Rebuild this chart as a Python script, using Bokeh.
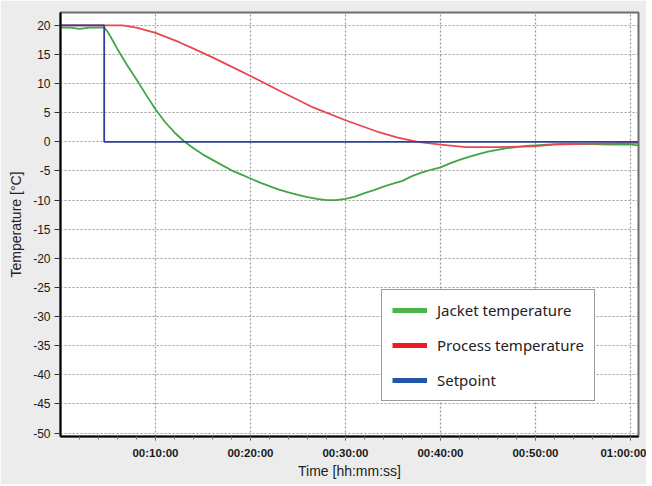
from bokeh.plotting import figure
from bokeh.models import (Range1d, FixedTicker, Legend, LegendItem)
from bokeh.embed import file_html
from bokeh.resources import INLINE

# ---- data (time in minutes, temperatures in degC) ----
jacket_t = [0, 1, 2, 3, 4, 4.6, 5.0, 5.5, 6, 7, 8, 9, 10, 11, 12, 13, 14, 15, 16, 17, 18, 19, 20,
            21, 22, 23, 24, 25, 26, 27, 28, 29, 30, 31, 32, 33, 34, 35, 36, 37, 38, 39, 40,
            41, 42, 43, 44, 45, 46, 47, 48, 49, 50, 52, 54, 56, 58, 60, 60.85]
jacket_v = [19.6, 19.6, 19.4, 19.6, 19.6, 19.6, 18.8, 17.4, 15.9, 13.2, 10.7, 8.1, 5.6, 3.4, 1.6, 0.1,
            -1.1, -2.2, -3.1, -4.0, -4.9, -5.6, -6.3, -7.0, -7.6, -8.2, -8.7, -9.1, -9.5, -9.8,
            -10.0, -10.0, -9.8, -9.4, -8.8, -8.3, -7.7, -7.2, -6.7, -5.9, -5.3, -4.8, -4.4,
            -3.7, -3.1, -2.6, -2.1, -1.7, -1.4, -1.1, -0.9, -0.7, -0.6, -0.4, -0.3, -0.4, -0.5,
            -0.5, -0.6]

process_t = [0, 6.5, 8, 10, 12.5, 14, 16, 18, 20, 23, 26.6, 30, 33.6, 35.5, 37.6, 40, 42.7,
             46, 49.7, 52, 56, 60.85]
process_v = [20.0, 20.0, 19.6, 18.7, 17.1, 16.0, 14.5, 12.9, 11.3, 8.8, 5.9, 3.7, 1.6, 0.7,
             0.0, -0.5, -0.9, -0.9, -0.8, -0.5, -0.3, -0.2]

setpoint_t = [0, 4.6, 4.6, 60.85]
setpoint_v = [20, 20, 0, 0]

x_ticks = [10, 20, 30, 40, 50, 60]
x_tick_labels = ["00:10:00", "00:20:00", "00:30:00", "00:40:00", "00:50:00", "01:00:00"]
y_ticks = [20, 15, 10, 5, 0, -5, -10, -15, -20, -25, -30, -35, -40, -45, -50]
y_tick_labels = ["20", "15", "10", "5", "0", "-5", "-10", "-15", "-20", "-25", "-30", "-35",
                 "-40", "-45", "-50"]
series_names = ["Jacket temperature", "Process temperature", "Setpoint"]

BG = "#ececec"

p = figure(width=646, height=484, output_backend="svg", toolbar_location=None,
           x_range=Range1d(0, 60.85), y_range=Range1d(-50.6, 22.2),
           min_border_left=60, min_border_right=8, min_border_top=12, min_border_bottom=48)
p.border_fill_color = BG
p.background_fill_color = "white"
p.outline_line_color = "#6e6e6e"
p.outline_line_width = 2

# axes
p.xaxis.ticker = FixedTicker(ticks=x_ticks, minor_ticks=list(range(2, 61, 2)))
p.xaxis.major_label_overrides = {t: l for t, l in zip(x_ticks, x_tick_labels)}
p.yaxis.ticker = FixedTicker(ticks=y_ticks)
p.yaxis.major_label_overrides = {t: l for t, l in zip(y_ticks, y_tick_labels)}
for ax in (p.xaxis[0], p.yaxis[0]):
    ax.axis_line_color = "black"
    ax.axis_line_width = 2
    ax.major_tick_line_color = "#333333"
    ax.minor_tick_line_color = "#777777"
    ax.major_label_text_font = "Liberation Sans"
    ax.major_label_text_color = "#1a1a1a"
    ax.axis_label_text_font = "Liberation Sans"
    ax.axis_label_text_font_style = "normal"
    ax.axis_label_text_font_size = "14px"
    ax.axis_label_text_color = "#222222"
p.xaxis.major_tick_out = 4
p.xaxis.major_tick_in = 0
p.xaxis.minor_tick_out = 3
p.xaxis.minor_tick_in = 0
p.xaxis.major_label_text_font_size = "11.5px"
p.xaxis.major_label_text_font_style = "bold"
p.xaxis.major_label_standoff = 6
p.xaxis.axis_label = "Time [hh:mm:ss]"
p.xaxis.axis_label_standoff = 1
p.yaxis.major_tick_out = 6
p.yaxis.major_tick_in = 0
p.yaxis.minor_tick_line_color = None
p.yaxis.major_label_text_font_size = "12px"
p.yaxis.major_label_standoff = 4
p.yaxis.axis_label = "Temperature [°C]"
p.yaxis.axis_label_standoff = 6

p.xgrid.ticker = FixedTicker(ticks=x_ticks)
p.ygrid.ticker = FixedTicker(ticks=y_ticks)
for g in (p.xgrid[0], p.ygrid[0]):
    g.grid_line_color = "#9a9a9a"
    g.grid_line_dash = "2 2"
    g.grid_line_width = 1.2

# series
p.line(jacket_t, jacket_v, line_color="#43a547", line_width=1.8)
p.line(process_t, process_v, line_color="#e8474f", line_width=1.8)
p.line(setpoint_t, setpoint_v, line_color="#2e3f9e", line_width=1.8)

# legend proxies: single-point lines (draw nothing) with thick swatches
leg_colors = ["#4ab54a", "#ed1c24", "#2356a8"]
firsts = [(jacket_t[0], jacket_v[0]), (process_t[0], process_v[0]), (setpoint_t[0], setpoint_v[0])]
items = []
for name, c, (x0, y0) in zip(series_names, leg_colors, firsts):
    r = p.line(x=[x0], y=[y0], line_color=c, line_width=5)
    items.append(LegendItem(label=name, renderers=[r]))
legend = Legend(items=items, location=(321, 35))
legend.label_text_font = "Noto Sans"
legend.label_text_font_size = "15px"
legend.label_text_color = "#222222"
legend.glyph_width = 35
legend.glyph_height = 10
legend.label_height = 10
legend.label_standoff = 10
legend.spacing = 15
legend.padding = 10
legend.margin = 0
legend.border_line_color = "#333333"
legend.border_line_width = 1
legend.background_fill_color = "white"
legend.background_fill_alpha = 1
p.add_layout(legend, "center")

html = file_html(p, INLINE)
html = html.replace("<body>", '<body style="background:%s;">' % BG, 1)
open("out.html", "w").write(html)
